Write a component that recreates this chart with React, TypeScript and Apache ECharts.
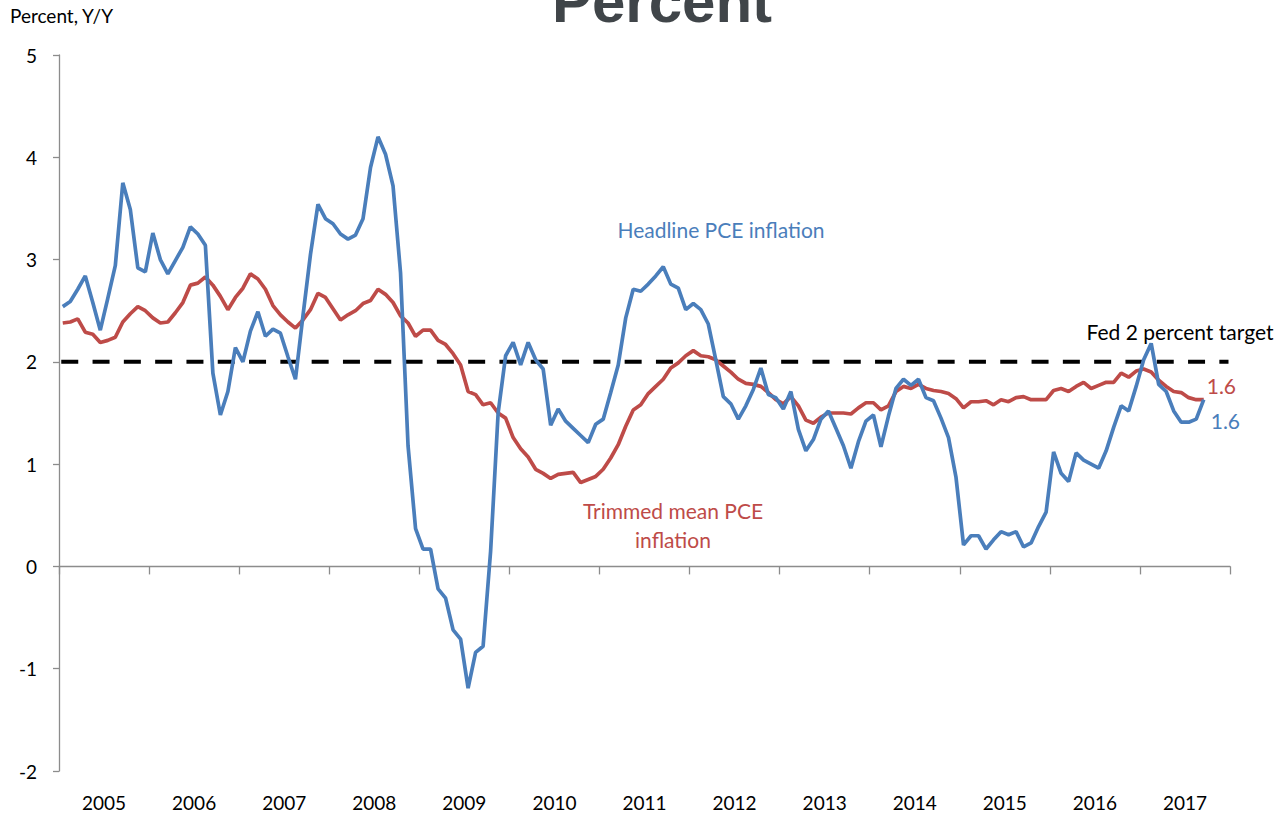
import React, { useEffect, useRef } from "react";
import * as echarts from "echarts";

const years = ["2005", "2006", "2007", "2008", "2009", "2010", "2011", "2012", "2013", "2014", "2015", "2016", "2017"];
const yTicks = [-2, -1, 0, 1, 2, 3, 4, 5];

// Monthly, Jan 2005 .. Sep 2017, percent Y/Y
const headline = [
  2.54, 2.59, 2.71, 2.84, 2.58, 2.31, 2.62, 2.94, 3.75, 3.49, 2.92, 2.88,
  3.26, 3.00, 2.86, 2.99, 3.12, 3.32, 3.25, 3.14, 1.89, 1.48, 1.71, 2.14,
  2.00, 2.30, 2.49, 2.25, 2.32, 2.28, 2.05, 1.83, 2.45, 3.05, 3.54, 3.40,
  3.35, 3.25, 3.20, 3.24, 3.40, 3.90, 4.20, 4.03, 3.72, 2.87, 1.18, 0.37,
  0.17, 0.17, -0.22, -0.31, -0.62, -0.71, -1.19, -0.84, -0.78, 0.15, 1.50, 2.06,
  2.19, 1.97, 2.19, 2.02, 1.93, 1.38, 1.54, 1.42, 1.35, 1.28, 1.21, 1.39,
  1.44, 1.70, 1.97, 2.43, 2.71, 2.69, 2.76, 2.84, 2.93, 2.76, 2.72, 2.51,
  2.57, 2.51, 2.37, 2.02, 1.66, 1.59, 1.44, 1.57, 1.73, 1.94, 1.68, 1.65,
  1.54, 1.71, 1.34, 1.13, 1.24, 1.44, 1.52, 1.35, 1.18, 0.96, 1.22, 1.42,
  1.48, 1.17, 1.47, 1.74, 1.83, 1.77, 1.83, 1.65, 1.62, 1.45, 1.26, 0.87,
  0.21, 0.30, 0.30, 0.17, 0.26, 0.34, 0.31, 0.34, 0.19, 0.23, 0.39, 0.53,
  1.12, 0.91, 0.83, 1.11, 1.04, 1.00, 0.96, 1.13, 1.36, 1.57, 1.52, 1.76,
  2.02, 2.18, 1.78, 1.71, 1.52, 1.41, 1.41, 1.44, 1.63,
];

const trimmed = [
  2.38, 2.39, 2.42, 2.29, 2.27, 2.19, 2.21, 2.24, 2.39, 2.47, 2.54, 2.50,
  2.43, 2.38, 2.39, 2.48, 2.58, 2.75, 2.77, 2.83, 2.75, 2.64, 2.51, 2.63,
  2.72, 2.86, 2.81, 2.71, 2.55, 2.46, 2.39, 2.33, 2.41, 2.51, 2.67, 2.63,
  2.52, 2.41, 2.46, 2.50, 2.57, 2.60, 2.71, 2.66, 2.58, 2.45, 2.38, 2.25,
  2.31, 2.31, 2.21, 2.17, 2.08, 1.97, 1.71, 1.68, 1.58, 1.60, 1.50, 1.45,
  1.26, 1.15, 1.07, 0.95, 0.91, 0.86, 0.90, 0.91, 0.92, 0.82, 0.85, 0.88,
  0.95, 1.06, 1.19, 1.37, 1.53, 1.58, 1.69, 1.76, 1.83, 1.94, 1.99, 2.06,
  2.11, 2.06, 2.05, 2.02, 1.96, 1.90, 1.83, 1.79, 1.78, 1.76, 1.70, 1.63,
  1.59, 1.66, 1.57, 1.43, 1.40, 1.46, 1.50, 1.50, 1.50, 1.49, 1.55, 1.60,
  1.60, 1.53, 1.57, 1.71, 1.76, 1.74, 1.78, 1.74, 1.72, 1.71, 1.69, 1.64,
  1.55, 1.61, 1.61, 1.62, 1.58, 1.63, 1.61, 1.65, 1.66, 1.63, 1.63, 1.63,
  1.72, 1.74, 1.71, 1.76, 1.80, 1.74, 1.77, 1.80, 1.80, 1.89, 1.85, 1.91,
  1.93, 1.90, 1.82, 1.76, 1.71, 1.70, 1.65, 1.63, 1.63,
];

const fedTarget = 2;

const BLUE = "#4a7ebb";
const RED = "#be4b48";
const FONT = "Lato, 'Open Sans', sans-serif";

export default function App() {
  const ref = useRef<HTMLDivElement>(null);

  useEffect(() => {
    if (!ref.current) return;
    const chart = echarts.init(ref.current, undefined, { renderer: "svg" });
    const months = years.length * 12;
    const toPts = (arr: number[]) => arr.map((v, i) => [i + 0.5, v]);
    const fmt = (p: any) => (Math.round(p.value[1] * 10) / 10).toFixed(1);

    chart.setOption({
      animation: false,
      backgroundColor: "#ffffff",
      textStyle: { fontFamily: FONT },
      grid: { left: 59, right: 54, top: 55, bottom: 43, containLabel: false },
      xAxis: [
        {
          type: "category",
          data: years,
          position: "bottom",
          boundaryGap: true,
          axisLine: { show: true, onZero: true, lineStyle: { color: "#8c8c8c", width: 1.3 } },
          axisTick: { show: true, interval: 0, length: 8, lineStyle: { color: "#8c8c8c", width: 1.3 } },
          axisLabel: { show: false },
          splitLine: { show: false },
        },
        {
          type: "category",
          data: years,
          position: "bottom",
          boundaryGap: true,
          axisLine: { show: false, onZero: false },
          axisTick: { show: false },
          axisLabel: { show: true, interval: 0, margin: 22, fontSize: 19, color: "#000", fontFamily: FONT },
          splitLine: { show: false },
        },
        { type: "value", min: 0, max: months, show: false },
      ],
      yAxis: {
        type: "value",
        min: yTicks[0],
        max: yTicks[yTicks.length - 1],
        interval: 1,
        axisLine: { show: true, lineStyle: { color: "#8c8c8c", width: 1.3 } },
        axisTick: { show: true, length: 6, lineStyle: { color: "#8c8c8c", width: 1.3 } },
        axisLabel: { margin: 22, fontSize: 19, color: "#000", fontFamily: FONT },
        splitLine: { show: false },
      },
      series: [
        {
          name: "Fed 2 percent target",
          type: "line",
          xAxisIndex: 2,
          data: [[0.3, fedTarget], [months - 0.2, fedTarget]],
          symbol: "none",
          lineStyle: { color: "#000", width: 4, type: [17, 14.3] },
          z: 1,
        },
        {
          name: "Trimmed mean PCE inflation",
          type: "line",
          xAxisIndex: 2,
          data: toPts(trimmed),
          symbol: "none",
          lineStyle: { color: RED, width: 3.7 },
          endLabel: { show: true, formatter: fmt, color: RED, fontSize: 21, fontFamily: FONT, offset: [-5, -14] },
          z: 2,
        },
        {
          name: "Headline PCE inflation",
          type: "line",
          xAxisIndex: 2,
          data: toPts(headline),
          symbol: "none",
          lineStyle: { color: BLUE, width: 3.7 },
          endLabel: { show: true, formatter: fmt, color: BLUE, fontSize: 21, fontFamily: FONT, offset: [-1, 21] },
          z: 3,
        },
      ],
      graphic: [
        {
          type: "text",
          x: 662,
          y: 1,
          z: 10,
          style: {
            text: "Percent",
            font: "bold 60px 'Liberation Sans', Arial, sans-serif",
            fill: "#404549",
            align: "center",
            verticalAlign: "middle",
          },
        },
        {
          type: "text",
          x: 10,
          y: 15,
          style: { text: "Percent, Y/Y", font: `19px ${FONT}`, fill: "#000", align: "left", verticalAlign: "middle" },
        },
        {
          type: "text",
          x: 721,
          y: 229,
          style: { text: "Headline PCE inflation", font: `21px ${FONT}`, fill: BLUE, align: "center", verticalAlign: "middle" },
        },
        {
          type: "text",
          x: 673,
          y: 510,
          style: { text: "Trimmed mean PCE", font: `21px ${FONT}`, fill: RED, align: "center", verticalAlign: "middle" },
        },
        {
          type: "text",
          x: 673,
          y: 539,
          style: { text: "inflation", font: `21px ${FONT}`, fill: RED, align: "center", verticalAlign: "middle" },
        },
        {
          type: "text",
          x: 1180,
          y: 331,
          style: { text: "Fed 2 percent target", font: `21px ${FONT}`, fill: "#000", align: "center", verticalAlign: "middle" },
        },
      ],
    });

    return () => chart.dispose();
  }, []);

  return (
    <div
      ref={ref}
      style={{ position: "fixed", left: 0, top: 0, width: 1284, height: 814, background: "#fff" }}
    />
  );
}
